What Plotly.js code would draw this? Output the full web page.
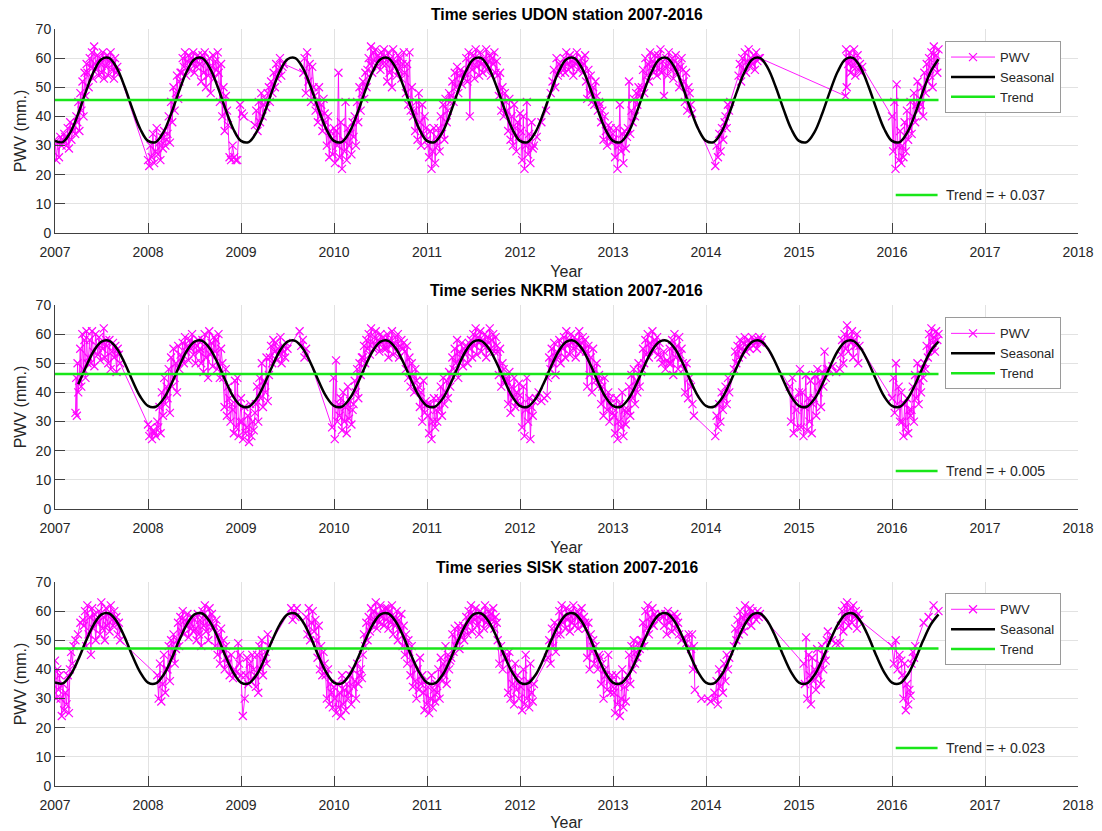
<!DOCTYPE html>
<html>
<head>
<meta charset="utf-8">
<script src="https://cdn.plot.ly/plotly-3.0.1.min.js"></script>
<style>
html,body{margin:0;padding:0;background:#ffffff;}
#chart{width:1102px;height:831px;}
</style>
</head>
<body>
<div id="chart"></div>
<script>
// ---------------- DATA ----------------
const xTickYears = [2007, 2008, 2009, 2010, 2011, 2012, 2013, 2014, 2015, 2016, 2017, 2018];
const stationNames = ["UDON", "NKRM", "SISK"];
const trendLevels = [45.6, 46.3, 47.2];
const trendLabels = ["Trend = + 0.037", "Trend = + 0.005", "Trend = + 0.023"];
const trendSpan = [2007.0, 2016.5];
const seasonalStarts = [2007.0, 2007.25, 2007.0];
const seasonalEnd = 2016.5;

// seasonal component, one value per month (Jan..Dec), repeating each year
const udonSeasonalCycle = [31.6, 31.2, 34.6, 41.0, 48.6, 55.4, 59.6, 60.0, 56.5, 50.1, 42.5, 35.7];
const nkrmSeasonalCycle = [35.4, 35.1, 37.8, 42.8, 48.8, 54.2, 57.4, 57.7, 55.0, 50.0, 44.0, 38.6];
const siskSeasonalCycle = [35.5, 35.2, 38.1, 43.4, 49.8, 55.4, 58.9, 59.2, 56.3, 51.0, 44.6, 39.0];

// PWV observations: [start year, end year, values spread over that span]
const udonPwv = [
 [2007.00,2007.10,"32 25 31 26 33 30 32 34"],
 [2007.11,2007.23,"33 30 36 29 38 32 35 37 34 40"],
 [2007.24,2007.34,"38 45 35 48 42 52 40 55 47 58"],
 [2007.35,2007.48,"55 50 60 57 62 53 64 58 56 61 54 60"],
 [2007.49,2007.67,"58 55 62 53 60 57 61 54 59 62 56 58 53 60 55 57"],
 [2008.00,2008.20,"25 23 30 26 34 24 28 36 27 31 25 33 29 35 30 32"],
 [2008.21,2008.35,"34 40 31 45 38 50 42 48 54 46 52 55"],
 [2008.36,2008.55,"55 60 57 62 54 59 61 56 60 58 62 55 59 57 61 60"],
 [2008.56,2008.75,"58 52 61 55 62 50 59 54 60 48 57 61 53 59 56 62"],
 [2008.76,2008.85,"55 45 58 40 50 35 47 42"],
 [2008.86,2008.96,"37 26 25 30 26 25 25"],
 [2008.99,2009.03,"44 41 40"],
 [2009.15,2009.30,"37 42 35 45 38 48 40 44 46 43 48 50"],
 [2009.31,2009.46,"45 52 48 55 50 58 53 56 60 54 57 58"],
 [2009.67,2009.78,"55 60 48 62 52 58 45 57 50"],
 [2009.79,2009.90,"47 42 45 38 50 40 44 35 46 41"],
 [2009.91,2010.00,"38 30 40 26 35 32 27 36"],
 [2010.01,2010.20,"24 35 30 55 26 38 22 32 28 45 25 36 30 34 27 38"],
 [2010.21,2010.35,"33 40 30 45 38 50 42 48 52 46 55 50"],
 [2010.36,2010.55,"56 60 58 64 55 62 59 63 57 61 60 56 62 58 63 60"],
 [2010.56,2010.75,"58 52 62 55 60 50 63 57 59 54 61 56 60 53 58 62"],
 [2010.76,2010.85,"55 48 58 44 62 42 50 40"],
 [2010.86,2011.00,"42 35 45 32 48 38 30 44 34 40 36 32"],
 [2011.01,2011.10,"30 26 35 22 28 36 24 33"],
 [2011.11,2011.25,"30 36 28 40 34 44 32 46 38 42 48 45"],
 [2011.26,2011.40,"47 52 45 55 50 57 48 54 56 51 55 53"],
 [2011.41,2011.75,"55 60 52 62 40 58 56 61 53 63 57 59 54 62 58 55 60 57 63 56 59 61 54 60 58 62 55 59"],
 [2011.76,2011.85,"54 47 55 42 50 40 48 45"],
 [2011.86,2012.00,"42 35 46 32 40 30 44 36 28 38 33 41"],
 [2012.01,2012.15,"35 25 40 22 30 45 27 34 24 38 29 30"],
 [2012.18,2012.33,"33 38 42 48"],
 [2012.35,2012.45,"52 56 50 60 54 58 55 57"],
 [2012.46,2012.70,"57 60 55 62 58 56 61 57 59 54 60 58 62 56 59 57 60 55 58 61"],
 [2012.71,2012.85,"52 46 56 48 54 45 50 44 52 47 42 45"],
 [2012.86,2013.00,"44 38 42 32 40 35 30 37 33 36 31 34"],
 [2013.01,2013.15,"32 26 36 22 30 44 28 34 24 35 29 33"],
 [2013.16,2013.30,"36 52 34 42 38 46 40 48 44 50 47 49"],
 [2013.31,2013.45,"50 56 48 60 54 58 52 62 57 59 55 61"],
 [2013.46,2013.75,"58 54 61 56 63 55 59 47 57 60 54 62 58 56 60 53 59 61 55 58 50 57 60 56"],
 [2013.76,2013.85,"52 45 55 42 50 48 44 41"],
 [2014.10,2014.20,"23 30 26 34 28 36 32 38"],
 [2014.21,2014.26,"40 36 44 42 45"],
 [2014.35,2014.58,"54 58 52 60 56 62 55 59 63 57 60 58 61 56 62 59 60 60"],
 [2015.50,2015.52,"47 63 50 60"],
 [2015.53,2015.68,"58 62 55 60 57 63 54 59 61 56 58 55 57"],
 [2016.00,2016.10,"40 28 45 22 51 30 25 35 24"],
 [2016.11,2016.30,"30 26 38 28 42 32 36 45 34 40 48 38 44 52 42 46"],
 [2016.31,2016.50,"44 50 40 55 48 58 52 60 54 62 50 64 57 61 55 63"]
];

const nkrmPwv = [
 [2007.22,2007.25,"33 45 32 50 40"],
 [2007.26,2007.35,"44 55 42 60 48 58 45 61 50"],
 [2007.36,2007.55,"52 58 50 61 54 49 60 56 53 59 51 57 55 62 52 58"],
 [2007.56,2007.70,"56 50 58 48 54 57 52 56 47 55 53 50"],
 [2008.00,2008.10,"29 25 28 24 27 26 25 30"],
 [2008.11,2008.20,"28 35 26 40 32 45 36 42"],
 [2008.21,2008.35,"38 48 33 52 42 55 45 50 40 56 48 53"],
 [2008.36,2008.55,"52 57 50 59 54 56 51 58 55 60 53 57 50 56 58 54"],
 [2008.56,2008.72,"55 50 58 47 60 52 56 45 61 53 57 49 59 54"],
 [2008.73,2008.80,"58 48 60 45 55 50"],
 [2008.81,2008.90,"45 35 48 32 42 38 30 36"],
 [2008.91,2009.00,"34 26 44 28 45 25 30 38"],
 [2009.01,2009.15,"30 24 35 26 28 32 23 36 25 30 27 33"],
 [2009.16,2009.30,"36 42 30 45 38 50 35 44 40 52 37 46"],
 [2009.31,2009.50,"52 56 50 58 54 57 51 55 53 59 50 56 54 52 57 55"],
 [2009.63,2009.70,"61 56 58 52 55"],
 [2009.98,2010.05,"28 45 24 51 30 36"],
 [2010.06,2010.20,"32 38 27 40 30 35 26 42 31 37 29 34"],
 [2010.21,2010.30,"36 44 40 48 38 50 46 52"],
 [2010.31,2010.55,"52 56 50 58 55 60 53 62 57 55 59 61 56 58 54 60 57 59 55 58"],
 [2010.56,2010.75,"55 60 52 58 56 61 53 57 59 54 60 52 56 58 55 57"],
 [2010.76,2010.90,"54 48 56 45 52 42 50 46 40 48 44 41"],
 [2010.91,2011.00,"42 35 40 30 44 33 37 36"],
 [2011.01,2011.10,"32 26 36 24 30 38 28 34"],
 [2011.11,2011.25,"30 38 34 42 32 45 36 40 44 38 47 42"],
 [2011.26,2011.45,"46 52 48 55 50 58 45 54 52 57 49 55 53 56 50 57"],
 [2011.46,2011.75,"55 58 52 60 56 62 53 59 57 61 54 58 56 60 52 59 57 62 55 58 60 54 59 56"],
 [2011.76,2011.85,"54 46 55 42 50 48 44 45"],
 [2011.86,2012.00,"44 36 47 33 42 38 45 35 40 37 43 39"],
 [2012.01,2012.15,"36 28 42 25 34 45 30 38 24 35 32 37"],
 [2012.17,2012.29,"38 40 37 38 39"],
 [2012.30,2012.45,"45 52 48 55 50 57 46 54 52 58 50 56"],
 [2012.46,2012.70,"55 59 52 61 56 58 53 60 57 55 59 52 58 56 61 54 57 59 55 58"],
 [2012.71,2012.85,"54 42 56 46 52 40 55 48 44 50 42 46"],
 [2012.86,2013.00,"44 36 42 32 45 38 34 40 30 38 35 33"],
 [2013.01,2013.15,"32 26 38 24 30 36 28 40 25 34 29 33"],
 [2013.16,2013.30,"34 42 32 46 38 48 36 44 40 50 42 47"],
 [2013.31,2013.50,"48 55 50 58 53 60 52 57 55 61 54 58 56 59 53 57"],
 [2013.51,2013.60,"52 50 54 48 51 50"],
 [2013.61,2013.75,"55 50 58 46 60 52 56 48 59 53 55 50"],
 [2013.76,2013.87,"48 40 50 38 45 42 36 32"],
 [2014.10,2014.25,"25 32 28 36 30 40 34 38 42 36 45 40"],
 [2014.30,2014.60,"48 54 50 56 52 58 55 53 57 59 54 56 58 55 57 59 56 58 57 55 58 59 57 58"],
 [2014.90,2015.00,"42 30 45 26 38 34 28 40"],
 [2015.01,2015.15,"48 28 40 25 35 46 27 38 30 44 26 36"],
 [2015.16,2015.30,"38 46 32 48 40 44 35 47 42 54 45 48"],
 [2015.32,2015.44,"48 49 47 48"],
 [2015.45,2015.65,"53 58 50 60 55 63 54 59 57 61 52 58 56 60 50 56"],
 [2016.00,2016.10,"38 45 33 50 36 42 30 40"],
 [2016.11,2016.20,"30 25 36 28 38 26 34 32"],
 [2016.21,2016.35,"34 42 30 46 38 50 36 44 40 48 45 50"],
 [2016.36,2016.50,"48 56 52 60 55 62 57 59 54 61 58 60"]
];

const siskPwv = [
 [2007.00,2007.05,"43 30 40 33 38"],
 [2007.06,2007.15,"30 24 35 26 32 28 38 25"],
 [2007.16,2007.20,"40 46 42 48"],
 [2007.22,2007.30,"50 52 56 57"],
 [2007.31,2007.45,"55 60 48 62 52 58 45 61 54 59 50 57"],
 [2007.46,2007.65,"56 60 52 63 54 58 50 61 55 59 53 62 57 55 60 56"],
 [2007.66,2007.70,"58 52 56 50"],
 [2008.10,2008.20,"38 30 42 29 35 45 32 40"],
 [2008.21,2008.30,"40 48 36 50 44 52 42 47"],
 [2008.31,2008.50,"50 56 48 58 53 60 52 57 55 59 51 56 54 58 53 57"],
 [2008.51,2008.70,"54 50 59 52 57 48 60 55 62 53 58 50 61 56 59 54"],
 [2008.71,2008.85,"55 48 57 45 52 42 54 46 50 40 48 44"],
 [2008.86,2008.95,"42 38 45 37 40 39"],
 [2008.97,2009.00,"49 42 45 38"],
 [2009.02,2009.04,"24 30"],
 [2009.05,2009.15,"38 44 35 42 36 45 40 38"],
 [2009.16,2009.30,"34 45 32 48 40 50 38 44 46 42 52 48"],
 [2009.54,2009.60,"61 57 60 58 61"],
 [2009.70,2009.80,"58 52 61 50 56 60 53 57"],
 [2009.81,2009.90,"50 44 55 40 48 38 46 42"],
 [2009.91,2010.00,"38 30 40 28 35 32 27 34"],
 [2010.01,2010.15,"30 25 35 27 32 24 38 28 33 26 35 30"],
 [2010.16,2010.30,"32 38 28 40 34 36 30 42 35 38 40 37"],
 [2010.31,2010.55,"45 52 48 56 50 58 53 61 55 60 57 63 54 59 56 62 58 60 55 61"],
 [2010.56,2010.80,"57 61 54 60 56 62 52 58 55 60 50 57 53 59 48 55 45 52 42 50"],
 [2010.81,2010.95,"46 38 48 34 42 36 30 40 33 44 35 38"],
 [2010.96,2011.10,"32 26 36 28 34 25 30 38 27 33 29 35"],
 [2011.11,2011.25,"32 40 30 44 36 42 38 48 35 45 40 43"],
 [2011.26,2011.40,"44 52 46 54 48 50 55 47 53 51 55 50"],
 [2011.41,2011.75,"54 58 52 60 56 62 53 59 57 61 55 58 52 60 57 59 54 62 56 58 60 55 59 57 61 54 58 56"],
 [2011.76,2011.85,"50 42 48 40 46 44"],
 [2011.86,2012.00,"44 32 46 30 40 35 28 42 33 38 30 36"],
 [2012.01,2012.15,"34 26 40 28 45 30 36 27 42 32 29 35"],
 [2012.30,2012.40,"44 50 42 54 48 56 46 52"],
 [2012.41,2012.70,"55 60 52 62 56 58 54 61 57 59 53 60 56 62 55 58 60 54 59 57 61 55 58 56"],
 [2012.71,2012.85,"54 44 56 40 52 46 50 42 48 44 40 45"],
 [2012.86,2013.00,"44 35 42 30 40 38 33 45 36 32 38 34"],
 [2013.01,2013.15,"32 25 38 28 35 24 30 40 27 34 29 36"],
 [2013.16,2013.30,"38 45 35 48 40 50 42 46 44 49 47 50"],
 [2013.31,2013.45,"50 56 48 60 54 62 52 58 56 61 55 59"],
 [2013.46,2013.54,"58 57 59 58"],
 [2013.55,2013.70,"55 59 52 60 56 58 53 57 59 54 58 56"],
 [2013.71,2013.84,"52 50 51 49 52 47"],
 [2013.85,2013.88,"52 40 48 33"],
 [2013.95,2014.02,"30 30"],
 [2014.05,2014.09,"29 32"],
 [2014.10,2014.25,"30 36 28 40 34 38 32 42 36 45 40 44"],
 [2014.30,2014.58,"48 54 50 57 52 60 55 58 53 62 56 59 57 61 55 60 58 59 57 60 58 59"],
 [2015.05,2015.30,"42 35 51 30 45 38 28 44 36 40 33 47 38 42 35 48 40 45 43 50"],
 [2015.31,2015.44,"53 50 49 49"],
 [2015.45,2015.65,"55 60 53 62 57 63 55 59 61 56 62 58 60 54 59 57"],
 [2016.00,2016.10,"48 42 50 40 45 43"],
 [2016.11,2016.20,"38 30 42 26 35 28 33 31"],
 [2016.21,2016.25,"42 46 44 48"],
 [2016.34,2016.50,"56 58 62 60"]
];

// ---------------- BUILD ----------------
const FONT = 'Arial, "Liberation Sans", Helvetica, sans-serif';
const TXT = '#262626';
const MAG = '#ff00ff';
const GREEN = '#19e619';

function expand(segs) {
  const xs = [], ys = [];
  segs.forEach(s => {
    const vals = s[2].trim().split(/\s+/).map(Number);
    const n = vals.length;
    vals.forEach((v, i) => {
      xs.push(n > 1 ? s[0] + (s[1] - s[0]) * i / (n - 1) : s[0]);
      ys.push(v);
    });
  });
  return {xs, ys};
}

function seasonal(cycle, start) {
  const xs = [], ys = [];
  for (let m = 0; ; m++) {
    const x = start + m / 12;
    if (x > seasonalEnd + 1e-9) break;
    const idx = Math.round((x - Math.floor(x)) * 12) % 12;
    xs.push(x); ys.push(cycle[idx]);
  }
  return {xs, ys};
}

const pwvSets = [udonPwv, nkrmPwv, siskPwv];
const cycles = [udonSeasonalCycle, nkrmSeasonalCycle, siskSeasonalCycle];
const domains = [[0.7305, 1.0], [0.3659, 0.6354], [0.0, 0.2695]];
const legendTops = [0.984, 0.619, 0.2545];
const traces = [];
const layout = {
  width: 1102, height: 831,
  margin: {l: 55, r: 24, t: 29, b: 45},
  paper_bgcolor: '#ffffff', plot_bgcolor: '#ffffff',
  font: {family: FONT, color: TXT, size: 14},
  showlegend: true,
  annotations: [], shapes: []
};

for (let k = 0; k < 3; k++) {
  const sfx = k === 0 ? '' : String(k + 1);
  const xa = 'x' + sfx, ya = 'y' + sfx;
  const lg = 'legend' + sfx;
  const d = expand(pwvSets[k]);
  traces.push({
    type: 'scatter', mode: 'lines+markers', name: 'PWV',
    x: d.xs, y: d.ys, xaxis: xa, yaxis: ya, legend: lg,
    line: {color: MAG, width: 0.9},
    marker: {symbol: 'x-thin', size: 8, color: MAG, line: {color: MAG, width: 1.2}}
  });
  const s = seasonal(cycles[k], seasonalStarts[k]);
  traces.push({
    type: 'scatter', mode: 'lines', name: 'Seasonal',
    x: s.xs, y: s.ys, xaxis: xa, yaxis: ya, legend: lg,
    line: {color: '#000000', width: 2.5, shape: 'spline', smoothing: 1}
  });
  traces.push({
    type: 'scatter', mode: 'lines', name: 'Trend',
    x: trendSpan, y: [trendLevels[k], trendLevels[k]], xaxis: xa, yaxis: ya, legend: lg,
    line: {color: GREEN, width: 2.5}
  });

  layout['xaxis' + sfx] = {
    anchor: ya, domain: [0, 1], range: [2007, 2018],
    tickmode: 'array', tickvals: xTickYears, ticktext: xTickYears.map(String),
    ticks: 'inside', ticklen: 10, tickwidth: 1, tickcolor: '#404040',
    ticklabelstandoff: 6,
    showline: true, linecolor: '#404040', linewidth: 1, mirror: false,
    showgrid: true, gridcolor: '#e2e2e2', gridwidth: 1, zeroline: false,
    tickfont: {family: FONT, size: 14, color: TXT},
    title: {text: 'Year', font: {family: FONT, size: 16, color: TXT}, standoff: 6}
  };
  layout['yaxis' + sfx] = {
    anchor: xa, domain: domains[k], range: [0, 70],
    tickmode: 'linear', tick0: 0, dtick: 10,
    ticks: 'inside', ticklen: 10, tickwidth: 1, tickcolor: '#404040',
    showline: true, linecolor: '#404040', linewidth: 1, mirror: false,
    showgrid: true, gridcolor: '#e2e2e2', gridwidth: 1, zeroline: false,
    tickfont: {family: FONT, size: 14, color: TXT},
    title: {text: 'PWV (mm.)', font: {family: FONT, size: 16, color: TXT}, standoff: 5}
  };
  layout[lg] = {
    x: 0.87, xanchor: 'left', y: legendTops[k], yanchor: 'top',
    bgcolor: '#ffffff', bordercolor: '#9a9a9a', borderwidth: 1,
    font: {family: FONT, size: 13, color: TXT},
    itemwidth: 44, tracegroupgap: 0, traceorder: 'normal'
  };
  layout.annotations.push({
    xref: 'paper', yref: 'paper', x: 0.5, y: domains[k][1], xanchor: 'center', yanchor: 'bottom',
    yshift: 4, showarrow: false,
    text: '<b>Time series ' + stationNames[k] + ' station 2007-2016</b>',
    font: {family: FONT, size: 15.7, color: '#000000'}
  });
  layout.annotations.push({
    xref: xa, yref: ya, x: 2016.56, y: 13, xanchor: 'left', yanchor: 'middle',
    showarrow: false, text: trendLabels[k],
    font: {family: FONT, size: 14, color: TXT}
  });
  layout.shapes.push({
    type: 'line', xref: xa, yref: ya, x0: 2016.04, x1: 2016.49, y0: 13, y1: 13,
    line: {color: GREEN, width: 2.5}
  });
}

Plotly.newPlot('chart', traces, layout, {displayModeBar: false, staticPlot: true});
</script>
</body>
</html>
